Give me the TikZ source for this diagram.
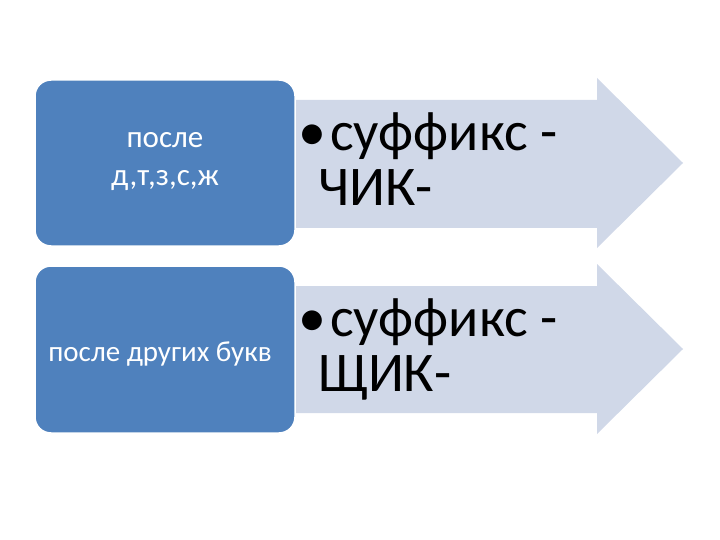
\documentclass[tikz,border=0pt]{standalone}
\usepackage{fontspec}
\setmainfont{Carlito}
\begin{document}
\begin{tikzpicture}[x=1pt,y=-1pt,
  box/.style={draw=white,line width=1.5pt,fill={rgb,255:red,79;green,129;blue,189},rounded corners=16pt},
  arr/.style={fill={rgb,255:red,208;green,216;blue,232},draw=none},
  btxt/.style={text=white,align=center,font=\fontsize{31}{38}\selectfont},
  atxt/.style={text=black,align=left,anchor=north west,inner sep=0pt,font=\fontsize{56}{55}\selectfont}]
\useasboundingbox (0,0) rectangle (720,540);
\fill[arr] (270,100) -- (597,100) -- (597,78) -- (683,163) -- (597,248) -- (597,228) -- (270,228) -- cycle;
\fill[arr] (270,286) -- (597,286) -- (597,264) -- (683,349) -- (597,434) -- (597,413) -- (270,413) -- cycle;
\draw[box] (35,80) rectangle (295,246);
\node[btxt] (b1) at (165,162) {после\\д,т,з,с,ж};
\draw[box] (35,266) rectangle (295,433);
\node[btxt,font=\fontsize{29}{34}\selectfont] (b2) at (160,354) {после других букв};
\node[atxt] (t1) at (298,112) {•\hspace{4pt}суффикс -\\\hspace*{20pt}ЧИК-};
\node[atxt] (t2) at (298,298) {•\hspace{4pt}суффикс -\\\hspace*{20pt}ЩИК-};
\end{tikzpicture}
\end{document}
